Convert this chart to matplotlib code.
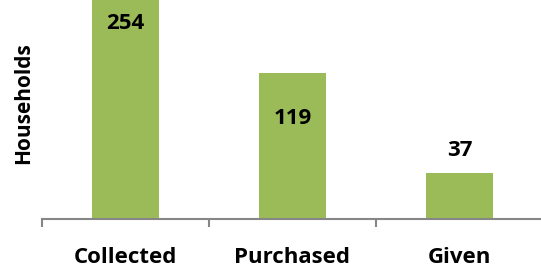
import matplotlib
matplotlib.use("Agg")
import matplotlib.pyplot as plt

categories = ["Collected", "Purchased", "Given"]
households = [254, 119, 37]

# layout: baseline heights (data units) for the value annotations
label_y = [154.4, 77.2, 51.2]

plt.rcParams['font.family'] = ['Open Sans', 'DejaVu Sans']

W, H = 541, 267
fig = plt.figure(figsize=(W / 100, H / 100), dpi=100)
ax = fig.add_axes([42 / W, 1 - 219 / H, 501 / W, 219 / H])
x = list(range(len(categories)))
ax.bar(x, households, width=0.4, color="#9BBB59", zorder=2)
ax.set_xlim(-0.5, 2.5)
ax.set_ylim(0, 178)

fs = 16
for xi, v, ly in zip(x, households, label_y):
    ax.text(xi, ly, str(v), ha="center", va="baseline", fontsize=fs,
            fontweight="bold", color="black", zorder=3)

for s in ["top", "right", "left"]:
    ax.spines[s].set_visible(False)
ax.spines["bottom"].set_color("#868686")
ax.spines["bottom"].set_linewidth(1.5)
ax.set_yticks([])
ax.set_xticks([-0.5, 0.5, 1.5, 2.5])
ax.set_xticklabels([])
ax.tick_params(axis="x", length=6, width=1.5, color="#868686")
for xi, c in zip(x, categories):
    ax.text(xi, -44 / 219, c, transform=ax.get_xaxis_transform(), ha="center",
            va="baseline", fontsize=fs, fontweight="bold")
fig.text(29 / W, 1 - 103 / H, "Households", rotation=90, rotation_mode="anchor",
         ha="center", va="baseline", fontsize=15, fontweight="bold")

fig.savefig("out.png", dpi=100)
